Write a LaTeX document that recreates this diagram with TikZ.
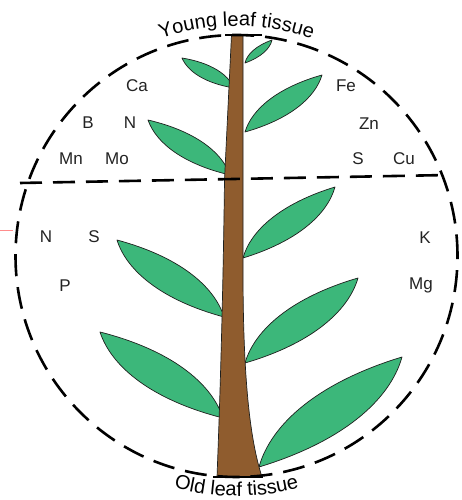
\documentclass[tikz,border=0pt]{standalone}
\usepackage{fontspec}
\setmainfont{Liberation Sans}
\usetikzlibrary{decorations.text}

\definecolor{leafgreen}{RGB}{60,183,122}
\definecolor{stembrown}{RGB}{143,92,46}
\definecolor{inkline}{RGB}{30,32,30}
\definecolor{labelink}{RGB}{35,35,35}

% A leaf from base (#1,#2) to tip (#3,#4); #5 = 1 for right-hand leaves, -1 for left-hand ones.
\newcommand{\drawleaf}[5]{%
  \pgfmathsetmacro{\leafang}{atan2((#4)-(#2),(#3)-(#1))}%
  \pgfmathsetmacro{\leaflen}{veclen((#3)-(#1),(#4)-(#2))}%
  \draw[leaf, shift={(#1,#2)}, rotate=\leafang, scale=\leaflen, yscale=#5]
    (0,0) .. controls (0.2,0.15) and (0.55,0.17) .. (1,0)
          .. controls (0.8,-0.15) and (0.45,-0.17) .. (0,0) -- cycle;}

\begin{document}
\begin{tikzpicture}[x=1pt, y=1pt,
  leaf/.style={fill=leafgreen, draw=inkline, line width=0.7pt, line join=round},
  stemshape/.style={fill=stembrown, draw=inkline, line width=0.7pt},
  zoneline/.style={draw=black, line width=2.6pt, dash pattern=on 22pt off 11pt},
  capline/.style={draw=black, line width=2.4pt},
  element/.style={font=\fontsize{17}{17}\selectfont, text=labelink, text height=12.2pt, text depth=0pt, inner sep=0pt}]

\useasboundingbox (0,0) rectangle (461,500);
\fill[white] (0,0) rectangle (461,500);

% faint mark at the left edge
\draw[red!45!white, line width=0.6pt] (0,270) -- (13,270);

% leaves (drawn first, their bases tucked under the stem)
\drawleaf{245}{437}{272}{460}{1}
\drawleaf{234}{412}{182}{442}{-1}
\drawleaf{245}{368}{322}{425}{1}
\drawleaf{230}{325}{148}{380}{-1}
\drawleaf{243}{242}{335}{313}{1}
\drawleaf{224}{183}{117}{260}{-1}
\drawleaf{245}{137}{358}{222}{1}
\drawleaf{223}{82}{100}{168}{-1}
\drawleaf{259}{33}{402}{143}{1}

% stem
\path[stemshape] (231.5,465) -- (243,465) -- (243,230)
  .. controls (243,120) and (250,60) .. (262,23) -- (217,23)
  .. controls (220,100) and (223,200) .. (224.5,320) -- cycle;

% zone boundary circle and dividing line
\coordinate (centre) at (236.5,244);
\coordinate (divL) at (20,317);
\coordinate (divR) at (448,325);
\draw[zoneline, dash phase=0.4pt] (centre) circle[radius=221];
\draw[zoneline] (divL) -- (divR);

% stem caps
\coordinate (capTL) at (225,465);
\coordinate (capTR) at (262,465);
\coordinate (capBL) at (213,23);
\coordinate (capBR) at (263,23);
\draw[capline] (capTL) -- (capTR);
\draw[capline] (capBL) -- (capBR);

% curved titles
\path[decorate, decoration={text along path, text align=center,
    text={|\fontsize{20}{20}\selectfont|Young leaf tissue}}]
  (centre) ++(160:230) arc[start angle=160, end angle=20, radius=230];
\path[decorate, decoration={text along path, text align=center,
    text={|\fontsize{20}{20}\selectfont|Old leaf tissue}}]
  (centre) ++(200:240) arc[start angle=200, end angle=340, radius=240];

% elements mobile towards young tissue
\node[element] (ca)  at (137,415) {Ca};
\node[element] (b)   at (88,378)  {B};
\node[element] (n1)  at (130,378) {N};
\node[element] (mn)  at (71,342)  {Mn};
\node[element] (mo)  at (117,342) {Mo};
\node[element] (fe)  at (346,415) {Fe};
\node[element] (zn)  at (369,377) {Zn};
\node[element] (s1)  at (358,342) {S};
\node[element] (cu)  at (404,342) {Cu};

% elements in old tissue
\node[element] (n2)  at (46,264)  {N};
\node[element] (s2)  at (94,264)  {S};
\node[element] (p)   at (65,215)  {P};
\node[element] (k)   at (425,263) {K};
\node[element] (mg)  at (421,217) {Mg};
\end{tikzpicture}
\end{document}
